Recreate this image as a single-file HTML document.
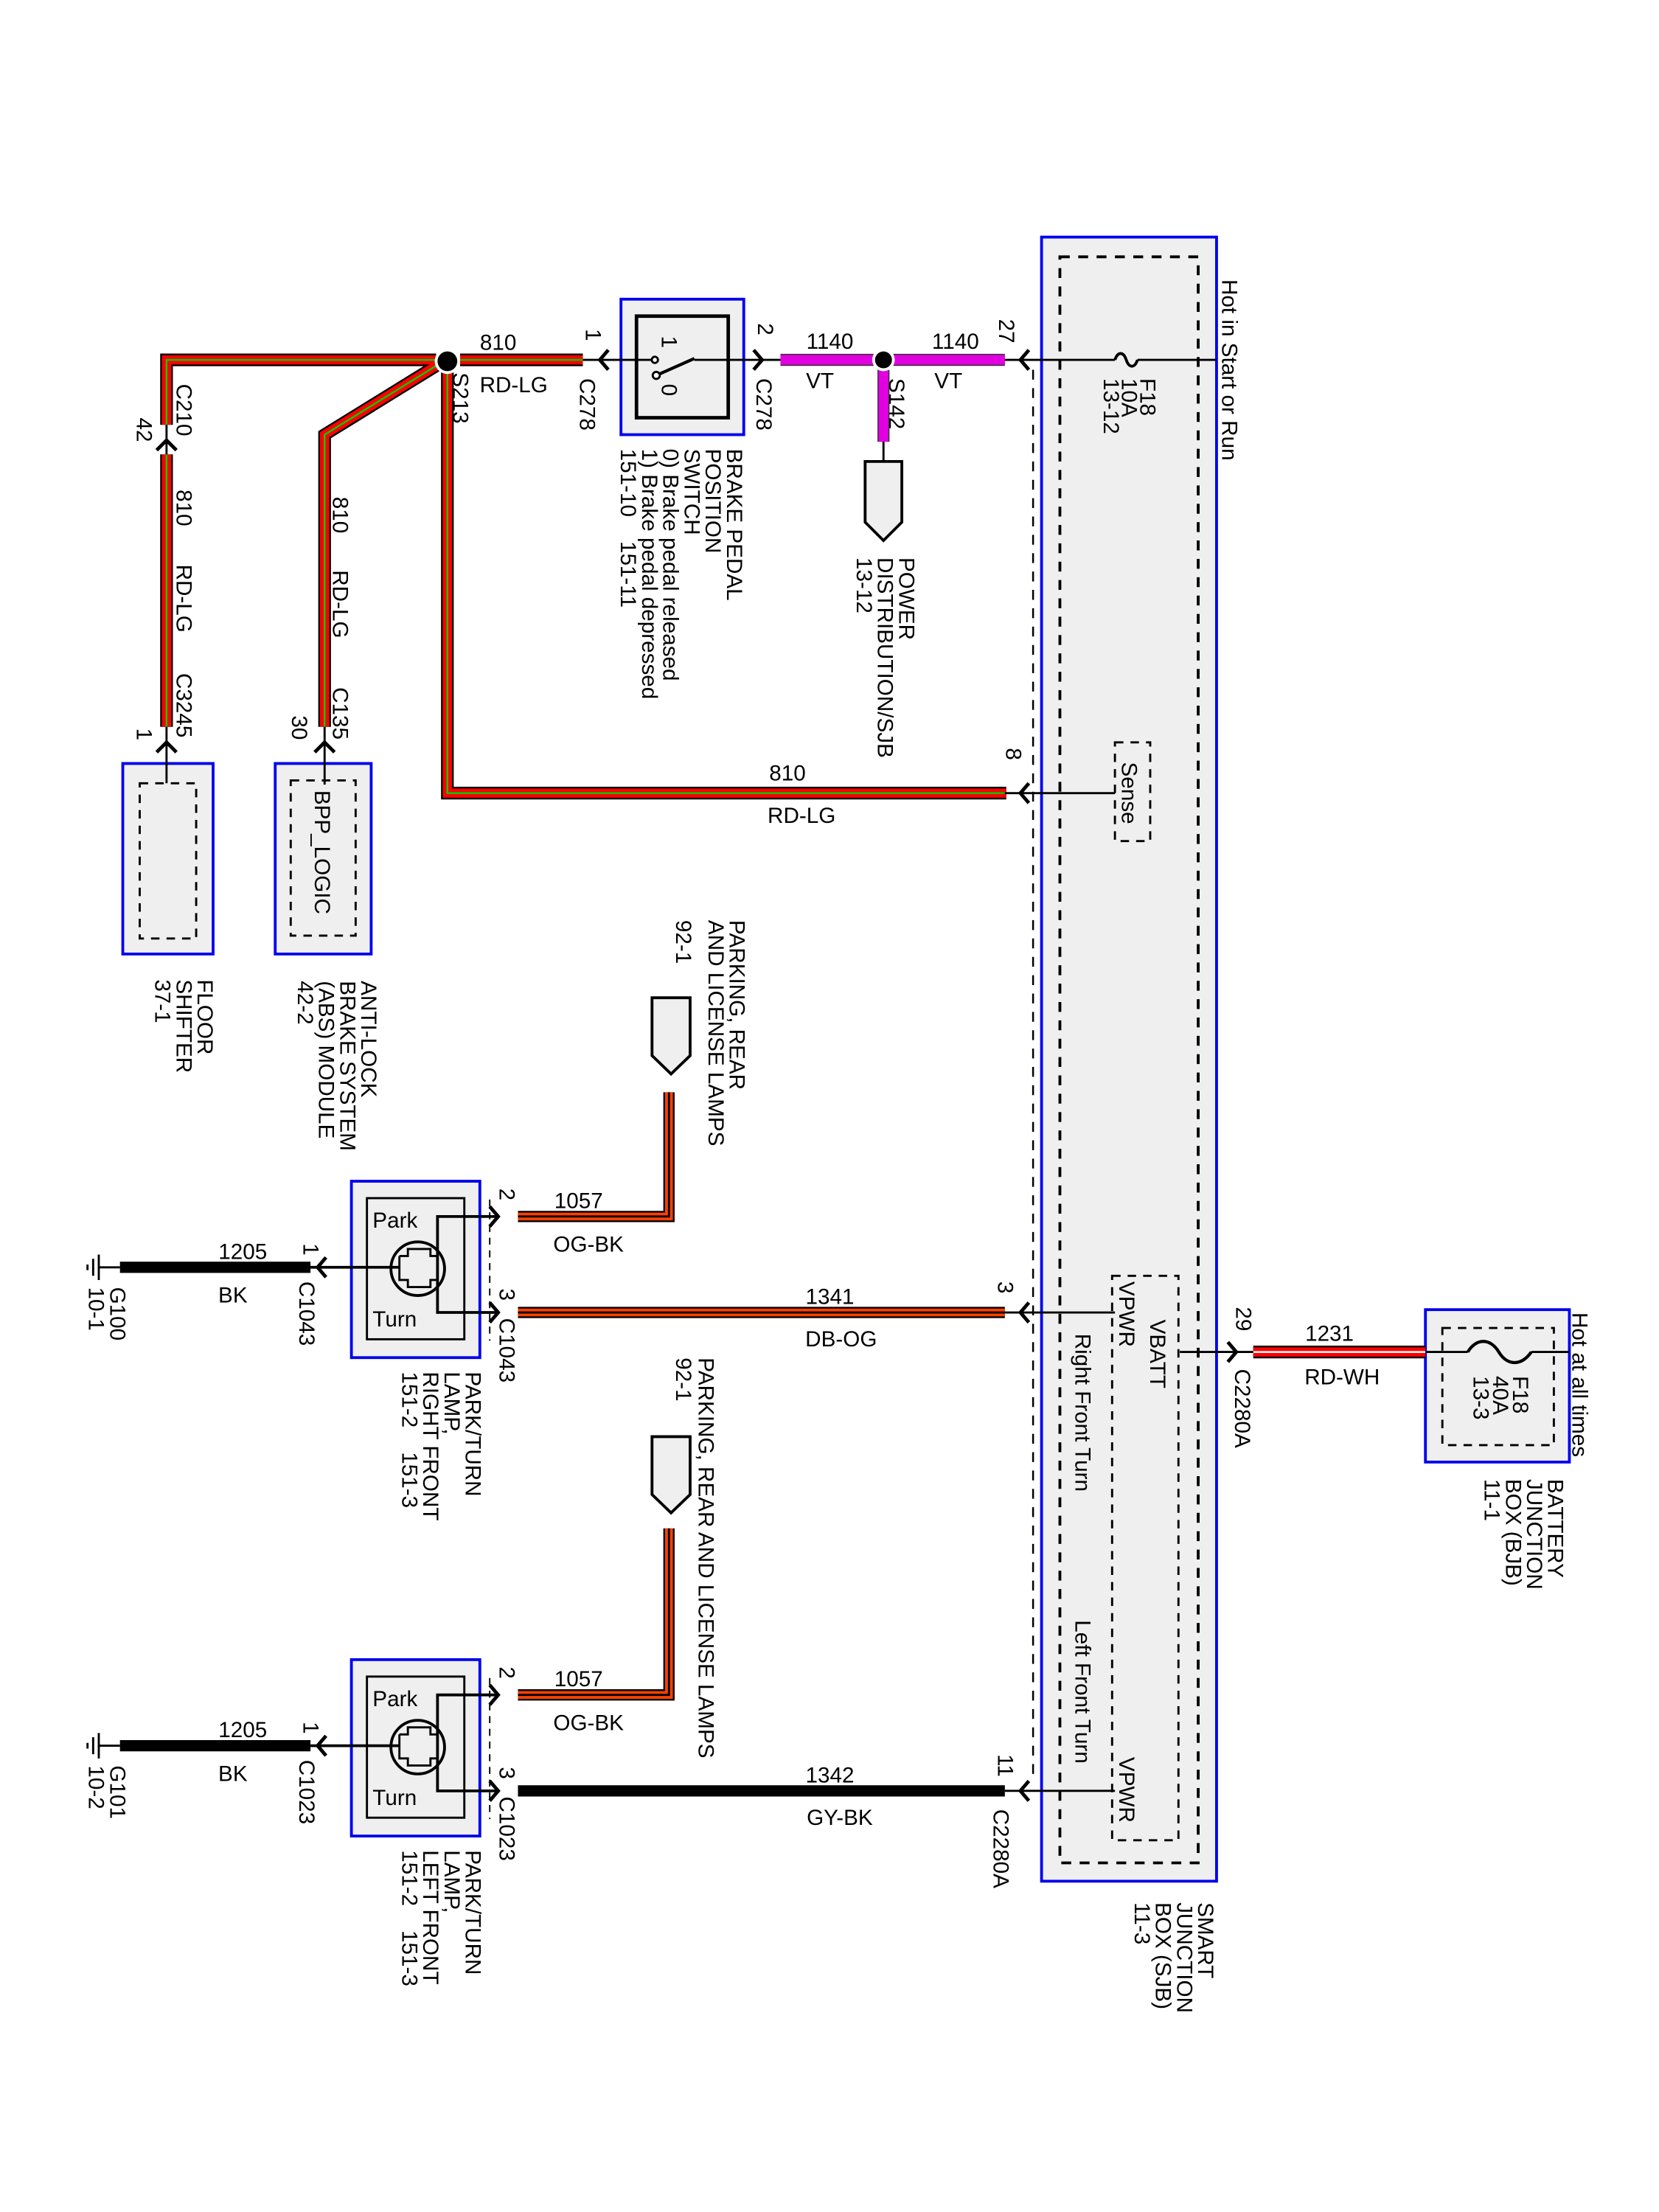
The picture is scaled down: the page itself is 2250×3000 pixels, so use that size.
<!DOCTYPE html>
<html><head><meta charset="utf-8"><style>
html,body{margin:0;padding:0;background:#fff}
svg{display:block}
text{font-family:"Liberation Sans",Arial,sans-serif;font-size:15.5px;fill:#000}
</style></head><body>
<svg width="2250" height="3000" viewBox="0 0 1175.5 1567.4" preserveAspectRatio="none" xmlns="http://www.w3.org/2000/svg">
<defs>
<path id="rl1" d="M118 301 L118 255 L309 255"/>
<path id="rl2" d="M326 255 L413 255"/>
<path id="rl3" d="M230 515 L230 308 L311 258"/>
<path id="rl4" d="M317 264 L317 562 L713 562"/>
<path id="rl5" d="M118 322 L118 515"/>
<path id="vt1" d="M553 255 L619 255"/>
<path id="vt2" d="M633 255 L712 255"/>
<path id="vt3" d="M626 262 L626 313"/>
<path id="og1" d="M474 774 L474 862 L367 862"/>
<path id="og2" d="M474 1083 L474 1201 L367 1201"/>
<path id="db1" d="M367 930 L712 930"/>
<path id="rw1" d="M888 958 L1010 958"/>
</defs>

<!-- SJB -->
<rect x="738" y="168" width="124" height="1165" fill="#efefef" stroke="#0000ee" stroke-width="2"/>
<rect x="751" y="182" width="98" height="1138" fill="none" stroke="#000" stroke-width="2" stroke-dasharray="7,6"/>
<line x1="732" y1="262" x2="732" y2="1262" stroke="#000" stroke-width="1.3" stroke-dasharray="7,6"/>
<rect x="788" y="904" width="47" height="400" fill="none" stroke="#000" stroke-width="1.5" stroke-dasharray="6,5"/>
<rect x="790" y="526" width="25" height="70" fill="none" stroke="#000" stroke-width="1.5" stroke-dasharray="6,5"/>

<!-- Switch box -->
<rect x="440" y="212" width="87" height="96" fill="#efefef" stroke="#0000ee" stroke-width="2"/>
<rect x="451" y="224" width="65" height="72" fill="none" stroke="#000" stroke-width="2.5"/>

<!-- Floor shifter and ABS -->
<rect x="87" y="541" width="64" height="135" fill="#efefef" stroke="#0000ee" stroke-width="2"/>
<rect x="99" y="555" width="40" height="110" fill="none" stroke="#000" stroke-width="1.5" stroke-dasharray="6,5"/>
<rect x="195" y="541" width="68" height="135" fill="#efefef" stroke="#0000ee" stroke-width="2"/>
<rect x="206" y="553" width="46" height="110" fill="none" stroke="#000" stroke-width="1.5" stroke-dasharray="6,5"/>

<!-- Lamp boxes -->
<rect x="249" y="837" width="91" height="125" fill="#efefef" stroke="#0000ee" stroke-width="2"/>
<rect x="260" y="849" width="69" height="100" fill="none" stroke="#000" stroke-width="1.5"/>
<rect x="249" y="1176" width="91" height="125" fill="#efefef" stroke="#0000ee" stroke-width="2"/>
<rect x="260" y="1188" width="69" height="100" fill="none" stroke="#000" stroke-width="1.5"/>
<line x1="347" y1="850" x2="347" y2="950" stroke="#000" stroke-width="1" stroke-dasharray="5,4"/>
<line x1="347" y1="1189" x2="347" y2="1289" stroke="#000" stroke-width="1" stroke-dasharray="5,4"/>

<!-- BJB -->
<rect x="1010" y="928" width="102" height="108" fill="#efefef" stroke="#0000ee" stroke-width="2"/>
<rect x="1022" y="941" width="79" height="83" fill="none" stroke="#000" stroke-width="1.5" stroke-dasharray="6,5"/>

<!-- Pentagons -->
<path d="M613 327 L639 327 L639 370 L626 383 L613 370 Z" fill="#efefef" stroke="#000" stroke-width="2"/>
<path d="M462 707 L489 707 L489 748 L475.5 761 L462 748 Z" fill="#efefef" stroke="#000" stroke-width="2"/>
<path d="M462 1018 L489 1018 L489 1059 L475.5 1072 L462 1059 Z" fill="#efefef" stroke="#000" stroke-width="2"/>

<!-- Wires RD-LG -->
<g fill="none" stroke-linejoin="miter">
<g stroke="#000" stroke-width="9"><use href="#rl1"/><use href="#rl2"/><use href="#rl3"/><use href="#rl4"/><use href="#rl5"/></g>
<g stroke="#f00" stroke-width="6.5"><use href="#rl1"/><use href="#rl2"/><use href="#rl3"/><use href="#rl4"/><use href="#rl5"/></g>
<g stroke="#0c0" stroke-width="1.3"><use href="#rl1"/><use href="#rl2"/><use href="#rl3"/><use href="#rl4"/><use href="#rl5"/></g>
<g stroke="#333" stroke-width="8.5"><use href="#vt1"/><use href="#vt2"/><use href="#vt3"/></g>
<g stroke="#e000e0" stroke-width="7"><use href="#vt1"/><use href="#vt2"/><use href="#vt3"/></g>
<g stroke="#000" stroke-width="8"><use href="#og1"/><use href="#og2"/><use href="#db1"/></g>
<g stroke="#ff4000" stroke-width="5.5"><use href="#og1"/><use href="#og2"/><use href="#db1"/></g>
<g stroke="#000" stroke-width="1.5"><use href="#og1"/><use href="#og2"/><use href="#db1"/></g>
<g stroke="#000" stroke-width="9"><use href="#rw1"/></g>
<g stroke="#f00" stroke-width="6.5"><use href="#rw1"/></g>
<g stroke="#fff" stroke-width="1.3"><use href="#rw1"/></g>
<path d="M367 1269 L712 1269" stroke="#000" stroke-width="8"/>
<path d="M85 898 L220 898 M85 1237 L220 1237" stroke="#000" stroke-width="8"/>
</g>

<!-- Splice dots -->
<circle cx="317" cy="256" r="9" fill="#fff"/>
<circle cx="317" cy="256" r="7" fill="#000"/>
<circle cx="626" cy="255" r="8" fill="#fff"/>
<circle cx="626" cy="255" r="6" fill="#000"/>

<!-- Thin lines -->
<g fill="none" stroke="#000" stroke-width="1.5">
<path d="M712 255 L790 255 M806 255 L862 255"/>
<path d="M790 255 c2 -6 6 -6 8 0 c2 6 6 6 8 0" stroke-width="2"/>
<path d="M413 255 L463 255 M492 255 L553 255"/>
<path d="M465 266 L492 254" stroke-width="2.2"/>
<circle cx="464" cy="255" r="2.2" fill="#fff"/>
<circle cx="465" cy="266" r="2.5" fill="#fff"/>
<path d="M626 313 L626 327"/>
<path d="M712 562 L790 562"/>
<path d="M118 301 L118 322 M118 515 L118 555 M230 515 L230 556"/>
<path d="M352 862 L310 862 L310 930 L352 930" stroke-width="2"/>
<path d="M352 1201 L310 1201 L310 1269 L352 1269" stroke-width="2"/>
<path d="M220 898 L283 898 M220 1237 L283 1237" stroke-width="2"/>
<circle cx="296" cy="899" r="19" stroke-width="2"/>
<circle cx="296" cy="1238" r="19" stroke-width="2"/>
<path d="M283 890 L283 907 L289 907 L289 912 L305 912 L305 907 L310 907 M283 890 L289 890 L289 885 L305 885 L305 890 L310 890"/>
<path d="M283 1229 L283 1246 L289 1246 L289 1251 L305 1251 L305 1246 L310 1246 M283 1229 L289 1229 L289 1224 L305 1224 L305 1229 L310 1229"/>
<path d="M712 930 L790 930 M712 1269 L790 1269"/>
<path d="M836 958 L888 958"/>
<path d="M1010 958 L1040 958 M1085 958 L1112 958"/>
<path d="M1040 958 c6 -10 16 -10 22 0 c6 10 16 10 23 0" stroke-width="2.2"/>
<path d="M70 898 L85 898 M70 1237 L85 1237"/>
<path d="M70 889 L70 907 M66 892 L66 904 M62 896 L62 900" />
<path d="M70 1228 L70 1246 M66 1231 L66 1243 M62 1235 L62 1239" />
</g>

<!-- Connector chevrons -->
<g fill="none" stroke="#000" stroke-width="2.5">
<path d="M729 248 L723 255 L729 262"/>
<path d="M534 248 L540 255 L534 262"/>
<path d="M431 248 L425 255 L431 262"/>
<path d="M111 319 L118 312 L125 319"/>
<path d="M111 533 L118 526 L125 533"/>
<path d="M223 533 L230 526 L237 533"/>
<path d="M729 555 L723 562 L729 569"/>
<path d="M347 855 L353 862 L347 869"/>
<path d="M347 923 L353 930 L347 937"/>
<path d="M231 891 L225 898 L231 905"/>
<path d="M347 1194 L353 1201 L347 1208"/>
<path d="M347 1262 L353 1269 L347 1276"/>
<path d="M231 1230 L225 1237 L231 1244"/>
<path d="M729 923 L723 930 L729 937"/>
<path d="M729 1262 L723 1269 L729 1276"/>
<path d="M870 951 L876 958 L870 965"/>
</g>

<!-- Horizontal labels -->
<g text-anchor="middle">
<text x="353" y="248">810</text>
<text x="364" y="278">RD-LG</text>
<text x="588" y="247">1140</text>
<text x="581" y="275">VT</text>
<text x="677" y="247">1140</text>
<text x="672" y="275">VT</text>
<text x="558" y="553">810</text>
<text x="568" y="583">RD-LG</text>
<text x="410" y="856">1057</text>
<text x="417" y="887">OG-BK</text>
<text x="588" y="924">1341</text>
<text x="596" y="954">DB-OG</text>
<text x="172" y="892">1205</text>
<text x="165" y="923">BK</text>
<text x="410" y="1195">1057</text>
<text x="417" y="1226">OG-BK</text>
<text x="588" y="1263">1342</text>
<text x="595" y="1293">GY-BK</text>
<text x="172" y="1231">1205</text>
<text x="165" y="1262">BK</text>
<text x="942" y="950">1231</text>
<text x="951" y="981">RD-WH</text>
</g>
<g font-size="15">
<text x="264" y="870">Park</text>
<text x="264" y="940">Turn</text>
<text x="264" y="1209">Park</text>
<text x="264" y="1279">Turn</text>
</g>

<!-- Rotated labels -->
<g>
<text transform="translate(866 198) rotate(90)">Hot in Start or Run</text>
<text transform="translate(808 268) rotate(90)">F18</text>
<text transform="translate(795 268) rotate(90)">10A</text>
<text transform="translate(782 268) rotate(90)">13-12</text>
<text transform="translate(708 226) rotate(90)">27</text>
<text transform="translate(537 229) rotate(90)">2</text>
<text transform="translate(536 268) rotate(90)">C278</text>
<text transform="translate(415 233) rotate(90)">1</text>
<text transform="translate(411 268) rotate(90)">C278</text>
<text transform="translate(469 238) rotate(90)" font-size="12">1</text>
<text transform="translate(469 272) rotate(90)" font-size="12">0</text>
<text transform="translate(630 268) rotate(90)">S142</text>
<text transform="translate(321 264) rotate(90)">S213</text>
<text transform="translate(515 318) rotate(90)">BRAKE PEDAL</text>
<text transform="translate(500 318) rotate(90)">POSITION</text>
<text transform="translate(485 318) rotate(90)">SWITCH</text>
<text transform="translate(470 318) rotate(90)">0) Brake pedal released</text>
<text transform="translate(455 318) rotate(90)">1) Brake pedal depressed</text>
<text transform="translate(440 318) rotate(90)">151-10&#160;&#160;&#160;&#160;151-11</text>
<text transform="translate(637 395) rotate(90)">POWER</text>
<text transform="translate(622 395) rotate(90)">DISTRIBUTION/SJB</text>
<text transform="translate(607 395) rotate(90)">13-12</text>
<text transform="translate(125 272) rotate(90)">C210</text>
<text transform="translate(97 296) rotate(90)">42</text>
<text transform="translate(125 347) rotate(90)">810</text>
<text transform="translate(125 400) rotate(90)">RD-LG</text>
<text transform="translate(125 477) rotate(90)">C3245</text>
<text transform="translate(97 516) rotate(90)">1</text>
<text transform="translate(236 352) rotate(90)">810</text>
<text transform="translate(236 404) rotate(90)">RD-LG</text>
<text transform="translate(236 487) rotate(90)">C135</text>
<text transform="translate(207 507) rotate(90)">30</text>
<text transform="translate(223 560) rotate(90)">BPP_LOGIC</text>
<text transform="translate(713 530) rotate(90)">8</text>
<text transform="translate(795 540) rotate(90)">Sense</text>
<text transform="translate(140 694) rotate(90)">FLOOR</text>
<text transform="translate(125 694) rotate(90)">SHIFTER</text>
<text transform="translate(110 694) rotate(90)">37-1</text>
<text transform="translate(256 695) rotate(90)">ANTI-LOCK</text>
<text transform="translate(241 695) rotate(90)">BRAKE SYSTEM</text>
<text transform="translate(226 695) rotate(90)">(ABS) MODULE</text>
<text transform="translate(211 695) rotate(90)">42-2</text>
<text transform="translate(517 652) rotate(90)">PARKING, REAR</text>
<text transform="translate(502 652) rotate(90)">AND LICENSE LAMPS</text>
<text transform="translate(479 652) rotate(90)">92-1</text>
<text transform="translate(354 842) rotate(90)">2</text>
<text transform="translate(354 913) rotate(90)">3</text>
<text transform="translate(354 934) rotate(90)">C1043</text>
<text transform="translate(215 881) rotate(90)">1</text>
<text transform="translate(212 908) rotate(90)">C1043</text>
<text transform="translate(78 912) rotate(90)">G100</text>
<text transform="translate(63 912) rotate(90)">10-1</text>
<text transform="translate(330 972) rotate(90)">PARK/TURN</text>
<text transform="translate(315 972) rotate(90)">LAMP,</text>
<text transform="translate(300 972) rotate(90)">RIGHT FRONT</text>
<text transform="translate(285 972) rotate(90)">151-2&#160;&#160;&#160;&#160;151-3</text>
<text transform="translate(707 908) rotate(90)">3</text>
<text transform="translate(793 908) rotate(90)">VPWR</text>
<text transform="translate(815 935) rotate(90)">VBATT</text>
<text transform="translate(762 945) rotate(90)">Right Front Turn</text>
<text transform="translate(762 1148) rotate(90)">Left Front Turn</text>
<text transform="translate(793 1245) rotate(90)">VPWR</text>
<text transform="translate(707 1243) rotate(90)">11</text>
<text transform="translate(704 1282) rotate(90)">C2280A</text>
<text transform="translate(876 926) rotate(90)">29</text>
<text transform="translate(875 970) rotate(90)">C2280A</text>
<text transform="translate(1072 975) rotate(90)">F18</text>
<text transform="translate(1058 975) rotate(90)">40A</text>
<text transform="translate(1044 975) rotate(90)">13-3</text>
<text transform="translate(1114 930) rotate(90)">Hot at all times</text>
<text transform="translate(1097 1048) rotate(90)">BATTERY</text>
<text transform="translate(1082 1048) rotate(90)">JUNCTION</text>
<text transform="translate(1067 1048) rotate(90)">BOX (BJB)</text>
<text transform="translate(1052 1048) rotate(90)">11-1</text>
<text transform="translate(849 1348) rotate(90)">SMART</text>
<text transform="translate(834 1348) rotate(90)">JUNCTION</text>
<text transform="translate(819 1348) rotate(90)">BOX (SJB)</text>
<text transform="translate(804 1348) rotate(90)">11-3</text>
<text transform="translate(495 962) rotate(90)">PARKING, REAR AND LICENSE LAMPS</text>
<text transform="translate(479 962) rotate(90)">92-1</text>
<text transform="translate(354 1181) rotate(90)">2</text>
<text transform="translate(354 1252) rotate(90)">3</text>
<text transform="translate(354 1273) rotate(90)">C1023</text>
<text transform="translate(215 1220) rotate(90)">1</text>
<text transform="translate(212 1247) rotate(90)">C1023</text>
<text transform="translate(78 1251) rotate(90)">G101</text>
<text transform="translate(63 1251) rotate(90)">10-2</text>
<text transform="translate(330 1311) rotate(90)">PARK/TURN</text>
<text transform="translate(315 1311) rotate(90)">LAMP,</text>
<text transform="translate(300 1311) rotate(90)">LEFT FRONT</text>
<text transform="translate(285 1311) rotate(90)">151-2&#160;&#160;&#160;&#160;151-3</text>
</g>
</svg>
</body></html>
